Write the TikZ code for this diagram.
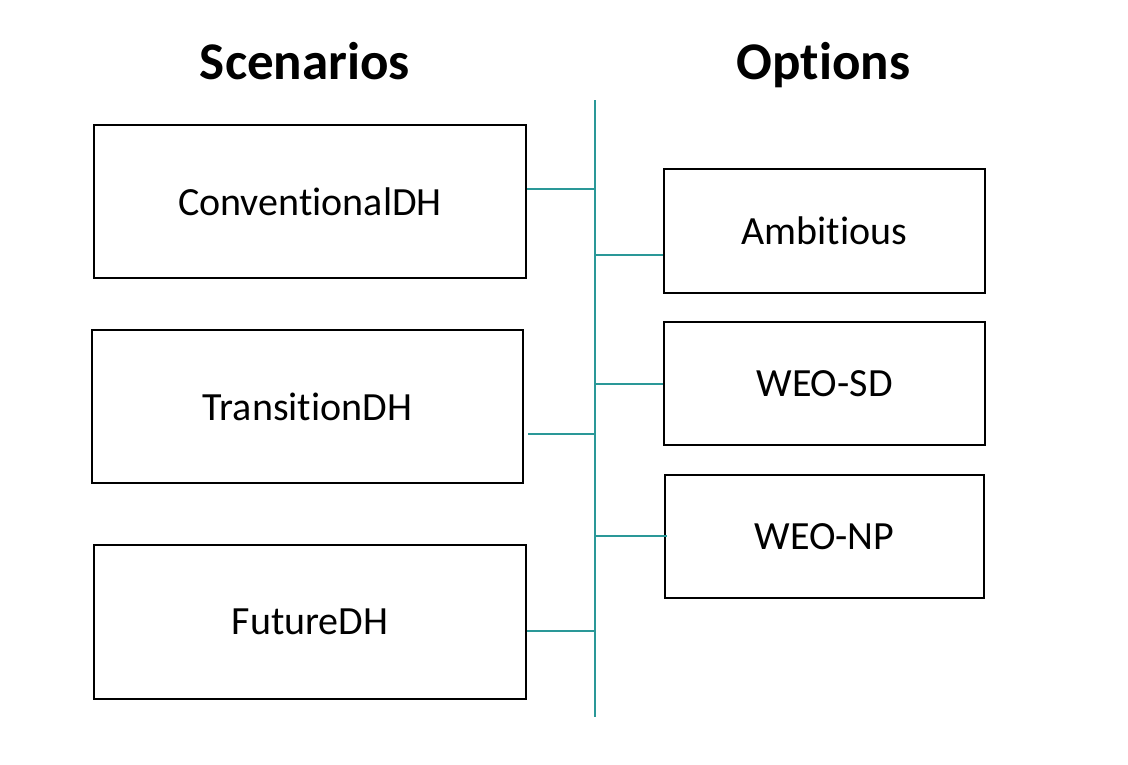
\documentclass[tikz,border=0pt]{standalone}
\usepackage{fontspec}
\setmainfont{Carlito}[RawFeature={-liga;-dlig}]
\begin{document}
\begin{tikzpicture}[x=1pt,y=-1pt,
  box/.style={draw=black,line width=2pt,inner sep=0pt,font=\fontsize{40}{48}\selectfont},
  title/.style={font=\bfseries\fontsize{53}{60}\selectfont,anchor=base,inner sep=0pt}]
\useasboundingbox (0,0) rectangle (1128,764);
\definecolor{busc}{HTML}{2A9898}
\node[title] (ts) at (305,79) {Scenarios};
\node[title] (to) at (823.5,79) {Options};
\node[box,minimum width=432pt,minimum height=153pt] (conv) at (310,201.5) {ConventionalDH};
\node[box,minimum width=431pt,minimum height=153pt] (trans) at (307.5,406.5) {TransitionDH};
\node[box,minimum width=432pt,minimum height=154pt] (fut) at (310,622) {FutureDH};
\node[box,minimum width=321pt,minimum height=124pt] (amb) at (824.5,231) {Ambitious};
\node[box,minimum width=321pt,minimum height=123pt] (sd) at (824.5,383.5) {WEO-SD};
\node[box,minimum width=319pt,minimum height=123pt] (np) at (824.5,536.5) {WEO-NP};
\coordinate (bt) at (595,100);
\coordinate (bb) at (595,717);
\coordinate (c1) at (595,189);
\coordinate (c2) at (595,434);
\coordinate (c3) at (595,631);
\coordinate (o1) at (595,255);
\coordinate (o2) at (595,384);
\coordinate (o3) at (595,536);
\draw[busc,line width=2pt] (bt) -- (bb);
\draw[busc,line width=2pt] (conv.east |- c1) -- (c1);
\draw[busc,line width=2pt] ([xshift=4pt]trans.east |- c2) -- (c2);
\draw[busc,line width=2pt] (fut.east |- c3) -- (c3);
\draw[busc,line width=2pt] (o1) -- (amb.west |- o1);
\draw[busc,line width=2pt] (o2) -- (sd.west |- o2);
\draw[busc,line width=2pt] (o3) -- ([xshift=3pt]np.west |- o3);
\end{tikzpicture}
\end{document}
